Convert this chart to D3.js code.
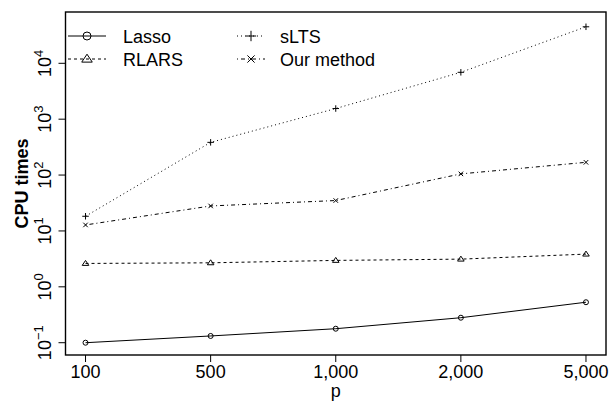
<!DOCTYPE html>
<html><head><meta charset="utf-8">
<script src="https://cdn.jsdelivr.net/npm/d3@7"></script>
<style>body{margin:0;background:#fff}svg{display:block;font-family:"Liberation Sans",Arial,sans-serif}</style>
</head><body><svg id="c" width="609" height="403"></svg>
<script>
const categories = ["100","500","1,000","2,000","5,000"];
const lasso  = [0.10, 0.132, 0.178, 0.28, 0.53];
const rlars  = [2.62, 2.69, 2.97, 3.13, 3.85];
const slts   = [18.3, 385, 1550, 6900, 45000];
const ours   = [12.8, 28, 35, 105, 169];
const yTicks = [-1, 0, 1, 2, 3, 4];
const seriesNames = ["Lasso","RLARS","sLTS","Our method"];

const svg = d3.select("#c");
const L = 65.5, R = 606, T = 12, B = 355;
const x = d3.scaleLinear().domain([0.84, 5.16]).range([L, R]);
const y = d3.scaleLog().domain([Math.pow(10,-1.22), Math.pow(10,4.918)]).range([B, T]);

const series = [
  {name:seriesNames[0], vals:lasso, dash:null, sym:"circle"},
  {name:seriesNames[1], vals:rlars, dash:"3,3", sym:"triangle"},
  {name:seriesNames[2], vals:slts, dash:"1,3", sym:"plus"},
  {name:seriesNames[3], vals:ours, dash:"1,3,4,3", sym:"cross"}
];

function drawSym(g, sym, cx, cy, s) {
  if (sym === "circle") {
    g.append("circle").attr("cx",cx).attr("cy",cy).attr("r",s*0.5).attr("fill","none").attr("stroke","#000").attr("stroke-width",1);
  } else if (sym === "triangle") {
    const h = s*0.6;
    g.append("path").attr("d",`M${cx},${cy-h}L${cx+h*1.1},${cy+h*0.65}L${cx-h*1.1},${cy+h*0.65}Z`).attr("fill","none").attr("stroke","#000").attr("stroke-width",1);
  } else if (sym === "plus") {
    const h = s*0.65;
    g.append("path").attr("d",`M${cx-h},${cy}H${cx+h}M${cx},${cy-h}V${cy+h}`).attr("stroke","#000").attr("stroke-width",1);
  } else {
    const h = s*0.45;
    g.append("path").attr("d",`M${cx-h},${cy-h}L${cx+h},${cy+h}M${cx-h},${cy+h}L${cx+h},${cy-h}`).attr("stroke","#000").attr("stroke-width",1);
  }
}

const line = d3.line().x((d,i)=>x(i+1)).y(d=>y(d));
const pg = svg.append("g");
series.forEach(s => {
  pg.append("path").datum(s.vals).attr("d", line).attr("fill","none")
    .attr("stroke","#000").attr("stroke-width",1)
    .attr("stroke-dasharray", s.dash);
  s.vals.forEach((v,i) => drawSym(pg, s.sym, x(i+1), y(v), 5));
});

// box
svg.append("rect").attr("x",L).attr("y",T).attr("width",R-L).attr("height",B-T)
  .attr("fill","none").attr("stroke","#000").attr("stroke-width",1.4);

// x axis
const xa = svg.append("g");
categories.forEach((c,i) => {
  const xx = x(i+1);
  xa.append("line").attr("x1",xx).attr("x2",xx).attr("y1",B).attr("y2",B+7).attr("stroke","#000");
  xa.append("text").attr("x",xx).attr("y",378).attr("text-anchor","middle").attr("font-size",18).text(c);
});
svg.append("text").attr("x",(L+R)/2).attr("y",397).attr("text-anchor","middle").attr("font-size",18).text("p");

// y axis
const ya = svg.append("g");
yTicks.forEach(k => {
  const yy = y(Math.pow(10,k));
  ya.append("line").attr("x1",L-7).attr("x2",L).attr("y1",yy).attr("y2",yy).attr("stroke","#000");
  const t = ya.append("text").attr("transform",`translate(51,${yy}) rotate(-90)`)
    .attr("text-anchor","middle").attr("font-size",18);
  t.append("tspan").text("10");
  t.append("tspan").attr("font-size",13).attr("dy",-8).text(k<0 ? "\u2212" + Math.abs(k) : String(k));
});
svg.append("text").attr("transform",`translate(28,${(T+B)/2}) rotate(-90)`)
  .attr("text-anchor","middle").attr("font-size",18).attr("font-weight","bold").text("CPU times");

// legend
const lg = svg.append("g");
const cols = [{lx:68, sx:87, tx:123}, {lx:237, sx:251, tx:280}];
const rows = [36, 59];
series.forEach((s,i) => {
  const c = cols[Math.floor(i/2)], yy = rows[i%2];
  lg.append("line").attr("x1",c.lx).attr("x2",c.lx+2*(c.sx-c.lx)).attr("y1",yy).attr("y2",yy)
    .attr("stroke","#000").attr("stroke-width",1).attr("stroke-dasharray",s.dash);
  drawSym(lg, s.sym, c.sx, yy, 8);
  lg.append("text").attr("x",c.tx).attr("y",yy+6.5).attr("font-size",18).text(s.name);
});
</script></body></html>
